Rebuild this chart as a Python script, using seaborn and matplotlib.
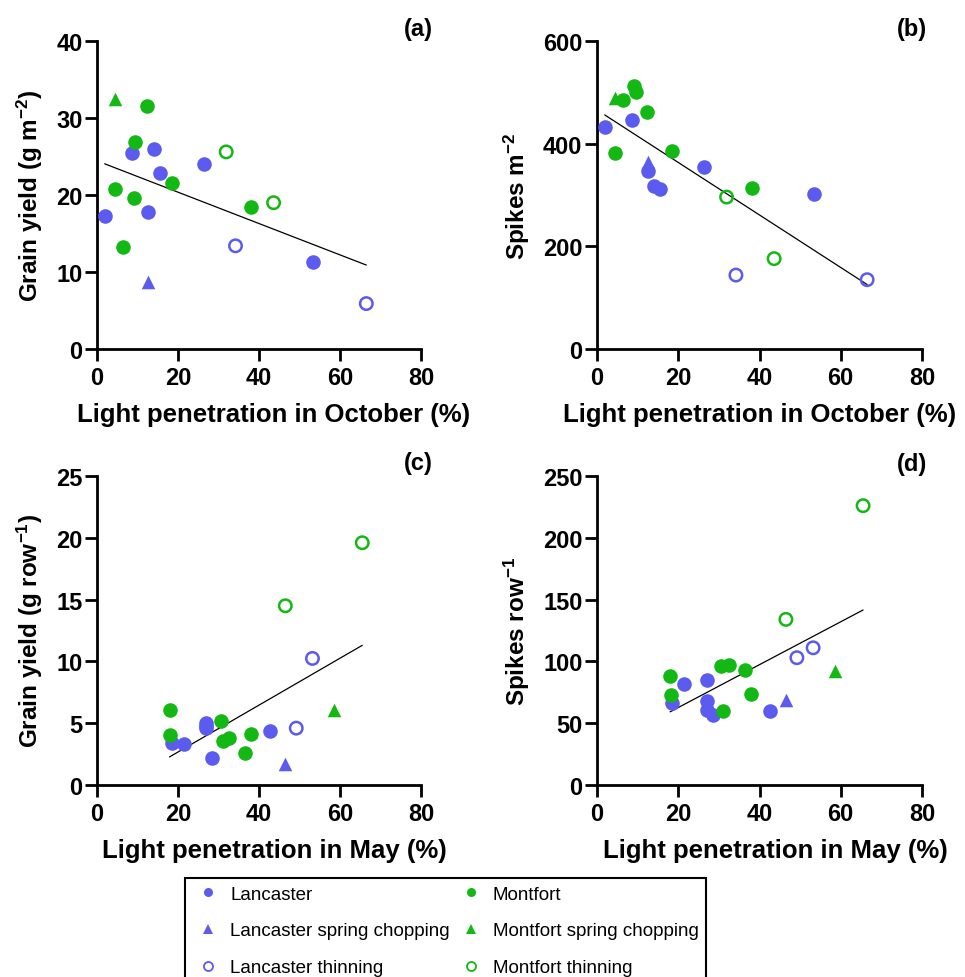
import matplotlib
matplotlib.use("Agg")
import pandas as pd
import matplotlib.pyplot as plt
from matplotlib.lines import Line2D
import seaborn as sns

# Light penetration in October (%), per plot and group
light_oct = {
    "Lancaster": [1.9, 8.7, 14.1, 15.5, 12.6, 26.3, 53.3],
    "Lancaster spring chopping": [12.6],
    "Lancaster thinning": [34.2, 66.5],
    "Montfort": [12.3, 9.5, 4.4, 9.1, 6.3, 18.5, 38.1],
    "Montfort spring chopping": [4.5],
    "Montfort thinning": [31.9, 43.6],
}

# (a) grain yield (g m-2)
grain_m2 = {
    "Lancaster": [17.3, 25.5, 26.0, 22.8, 17.8, 24.0, 11.3],
    "Lancaster spring chopping": [8.75],
    "Lancaster thinning": [13.4, 5.9],
    "Montfort": [31.5, 26.9, 20.8, 19.6, 13.2, 21.6, 18.4],
    "Montfort spring chopping": [32.5],
    "Montfort thinning": [25.6, 19.0],
}

# (b) spikes m-2
spikes_m2 = {
    "Lancaster": [433, 447, 317, 311, 347, 354, 302],
    "Lancaster spring chopping": [364],
    "Lancaster thinning": [144, 135],
    "Montfort": [462, 500, 382, 512, 486, 385, 313],
    "Montfort spring chopping": [488],
    "Montfort thinning": [296, 176],
}

# Light penetration in May (%)
light_may = {
    "Lancaster": [18.5, 21.5, 27.0, 27.0, 27.0, 28.5, 42.7],
    "Lancaster spring chopping": [46.4],
    "Lancaster thinning": [49.2, 53.2],
    "Montfort": [18.0, 18.1, 30.5, 32.6, 36.5, 38.0, 31.0],
    "Montfort spring chopping": [58.5],
    "Montfort thinning": [46.5, 65.5],
}

# (c) grain yield (g row-1)
grain_row = {
    "Lancaster": [3.43, 3.3, 5.0, 4.6, 4.8, 2.16, 4.35],
    "Lancaster spring chopping": [1.68],
    "Lancaster thinning": [4.6, 10.24],
    "Montfort": [6.05, 4.03, 5.2, 3.8, 2.57, 4.16, 3.6],
    "Montfort spring chopping": [6.1],
    "Montfort thinning": [14.5, 19.6],
}

# (d) spikes row-1
spikes_row = {
    "Lancaster": [66, 82, 85, 68, 61, 57, 60],
    "Lancaster spring chopping": [69],
    "Lancaster thinning": [103, 111],
    "Montfort": [88, 73, 96, 97, 93, 73.5, 60],
    "Montfort spring chopping": [92],
    "Montfort thinning": [134, 226],
}

# regression lines (end points)
fit_a_x, fit_a_y = [1.9, 66.5], [24.05, 10.9]
fit_b_x, fit_b_y = [1.9, 66.5], [456, 125.5]
fit_c_x, fit_c_y = [17.9, 65.5], [2.27, 11.3]
fit_d_x, fit_d_y = [18.0, 65.5], [59.2, 141.6]

blue = "#5b5bef"
green = "#14b814"
styles = {
    "Lancaster": (blue, "o", True),
    "Lancaster spring chopping": (blue, "^", True),
    "Lancaster thinning": (blue, "o", False),
    "Montfort": (green, "o", True),
    "Montfort spring chopping": (green, "^", True),
    "Montfort thinning": (green, "o", False),
}
draw_order = ["Lancaster spring chopping", "Montfort spring chopping",
              "Lancaster thinning", "Montfort thinning", "Lancaster", "Montfort"]


def make_df(xd, yd):
    frames = []
    for g in xd:
        frames.append(pd.DataFrame({"x": xd[g], "y": yd[g], "group": g}))
    return pd.concat(frames, ignore_index=True)


sns.set_style("ticks")
plt.rcParams["font.family"] = ["Liberation Sans", "DejaVu Sans"]
plt.rcParams["font.weight"] = "bold"
plt.rcParams["mathtext.fontset"] = "custom"
plt.rcParams["mathtext.rm"] = "Liberation Sans:bold"
plt.rcParams["mathtext.default"] = "rm"
for k in ["text.color", "axes.labelcolor", "xtick.color", "ytick.color", "axes.edgecolor"]:
    plt.rcParams[k] = "black"

W, H = 965, 978
fig = plt.figure(figsize=(W / 100, H / 100), dpi=100)

panels = [
    # left, top, right, bottom (px), data, fit, ylim, ystep, ylabel, xlabel, xlabel centre, tag, tag pos
    (97, 42, 421, 350, make_df(light_oct, grain_m2), (fit_a_x, fit_a_y), 40, 10,
     r"Grain yield (g m$^{-2}$)", "Light penetration in October (%)", 0.546, "(a)", (1.037, 1.042)),
    (597, 42, 922, 350, make_df(light_oct, spikes_m2), (fit_b_x, fit_b_y), 600, 200,
     r"Spikes m$^{-2}$", "Light penetration in October (%)", 0.5, "(b)", (1.015, 1.042)),
    (97, 477, 421, 786, make_df(light_may, grain_row), (fit_c_x, fit_c_y), 25, 5,
     r"Grain yield (g row$^{-1}$)", "Light penetration in May (%)", 0.548, "(c)", (1.037, 1.045)),
    (597, 477, 922, 786, make_df(light_may, spikes_row), (fit_d_x, fit_d_y), 250, 50,
     r"Spikes row$^{-1}$", "Light penetration in May (%)", 0.55, "(d)", (1.015, 1.04)),
]

for left, top, right, bottom, df, fit, ymax, ystep, ylab, xlab, xlc, tag, tagpos in panels:
    ax = fig.add_axes([left / W, 1 - bottom / H, (right - left) / W, (bottom - top) / H])
    sns.lineplot(x=fit[0], y=fit[1], ax=ax, color="black", linewidth=0.9, zorder=2)
    for g in draw_order:
        col, mk, filled = styles[g]
        sub = df[df["group"] == g]
        if filled:
            sns.scatterplot(data=sub, x="x", y="y", ax=ax, marker=mk,
                            s=110 if mk == "o" else 95, color=col,
                            edgecolor=col, linewidth=0, legend=False, zorder=3)
        else:
            sns.scatterplot(data=sub, x="x", y="y", ax=ax, marker=mk, s=80,
                            facecolor="none", edgecolor=col, linewidth=1.8,
                            legend=False, zorder=3)
    ax.set_xlim(0, 80)
    ax.set_ylim(0, ymax)
    ax.set_xticks(range(0, 81, 20))
    ax.set_yticks(range(0, ymax + 1, ystep))
    sns.despine(ax=ax)
    for sp in ["left", "bottom"]:
        ax.spines[sp].set_linewidth(2)
    ax.tick_params(axis="both", length=8.5, width=2, labelsize=17)
    ax.tick_params(axis="y", pad=2)
    ax.tick_params(axis="x", pad=4)
    ax.set_xlabel(xlab, fontsize=18.5, fontweight="bold")
    ax.xaxis.set_label_coords(xlc, -0.172)
    ax.set_ylabel(ylab, fontsize=17.5, fontweight="bold", labelpad=8)
    ax.text(tagpos[0], tagpos[1], tag, transform=ax.transAxes, ha="right",
            va="center", fontsize=17, fontweight="bold")

handles = []
labels = []
for g in ["Lancaster", "Lancaster spring chopping", "Lancaster thinning",
          "Montfort", "Montfort spring chopping", "Montfort thinning"]:
    col, mk, filled = styles[g]
    handles.append(Line2D([], [], linestyle="none", marker=mk, markersize=6.5 if mk == "o" else 7,
                          markerfacecolor=col if filled else "none",
                          markeredgecolor=col, markeredgewidth=0 if filled else 1.3))
    labels.append(g)

leg = fig.legend(handles, labels, loc="upper left", bbox_to_anchor=(185 / W, 1 - 879 / H),
                 ncol=2, frameon=True, fancybox=False, edgecolor="black", framealpha=1,
                 prop={"weight": "normal", "size": 13.5}, borderpad=0.4, handlelength=1.7,
                 handletextpad=0.3, columnspacing=0.3, labelspacing=1.05, borderaxespad=0)
leg.get_frame().set_linewidth(1.5)

fig.savefig("out.png", dpi=100)
